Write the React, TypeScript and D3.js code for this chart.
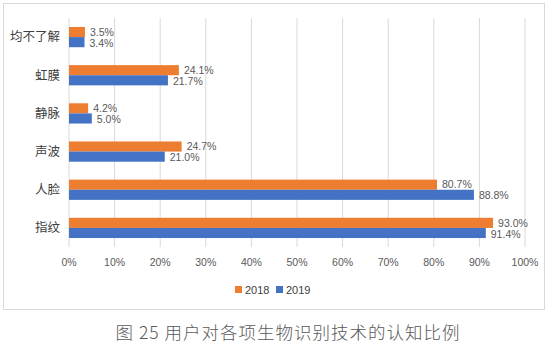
import { scaleLinear, scaleBand } from "d3"

const categories = ["均不了解", "虹膜", "静脉", "声波", "人脸", "指纹"]
const series2018 = [3.5, 24.1, 4.2, 24.7, 80.7, 93.0]
const series2019 = [3.4, 21.7, 5.0, 21.0, 88.8, 91.4]
const xTicks = [0, 10, 20, 30, 40, 50, 60, 70, 80, 90, 100]
const seriesNames = ["2018", "2019"]
const caption = "图 25 用户对各项生物识别技术的认知比例"

const ORANGE = "#ED7D31"
const BLUE = "#4472C4"
const FONT = "'Noto Sans CJK SC', 'Liberation Sans', sans-serif"

export default function App() {
  const width = 550
  const height = 353
  const plot = { left: 69, right: 525, top: 18, bottom: 247 }

  const x = scaleLinear().domain([0, 100]).range([plot.left, plot.right])
  const y = scaleBand<string>()
    .domain(categories)
    .range([plot.top, plot.bottom])
    .paddingInner(0.47)
    .paddingOuter(0.235)
  const inner = scaleBand<string>().domain(seriesNames).range([0, y.bandwidth()])

  const rows = categories.map((c, i) => ({ c, v: [series2018[i], series2019[i]] }))
  const colors = [ORANGE, BLUE]

  return (
    <div style={{ position: "absolute", left: 0, top: 0 }}>
      <svg width={width} height={height} style={{ display: "block", fontFamily: FONT }}>
        <rect x={0} y={0} width={width} height={height} fill="#fff" />
        {/* 外框 */}
        <rect x={3.5} y={3.5} width={541} height={306} fill="none" stroke="#d9d9d9" />

        {/* 网格线 */}
        {xTicks.map((t) => (
          <line key={t} x1={x(t)} x2={x(t)} y1={plot.top} y2={plot.bottom} stroke="#d9d9d9" strokeWidth={1} />
        ))}

        {/* 条形 */}
        {rows.map((r) =>
          r.v.map((v, k) => {
            const by = (y(r.c) ?? 0) + (inner(seriesNames[k]) ?? 0)
            return (
              <g key={r.c + k}>
                <rect x={x(0)} y={by} width={x(v) - x(0)} height={inner.bandwidth()} fill={colors[k]} />
                <text
                  x={x(v) + 5}
                  y={by + inner.bandwidth() / 2 + (k === 0 ? 0 : 1)}
                  dy="0.35em"
                  fontSize={10.5}
                  fill="#595959"
                  fontFamily="'Liberation Sans', sans-serif"
                >
                  {v.toFixed(1)}%
                </text>
              </g>
            )
          })
        )}

        {/* 分类标签 */}
        {categories.map((c) => (
          <text
            key={c}
            x={60}
            y={(y(c) ?? 0) + y.bandwidth() / 2}
            dy="0.35em"
            textAnchor="end"
            fontSize={12.5}
            fill="#404040"
          >
            {c}
          </text>
        ))}

        {/* X 轴 */}
        {xTicks.map((t) => (
          <text
            key={t}
            x={x(t)}
            y={262}
            dy="0.35em"
            textAnchor="middle"
            fontSize={10.5}
            fill="#595959"
            fontFamily="'Liberation Sans', sans-serif"
          >
            {t}%
          </text>
        ))}

        {/* 图例 */}
        {seriesNames.map((s, k) => {
          const lx = 235 + k * 41
          return (
            <g key={s}>
              <rect x={lx} y={286} width={7} height={7} fill={colors[k]} />
              <text x={lx + 10} y={290} dy="0.35em" fontSize={11} fill="#404040" fontFamily="'Liberation Sans', sans-serif">
                {s}
              </text>
            </g>
          )
        })}

        {/* 标题 */}
        <text x={288} y={333} dy="0.35em" textAnchor="middle" fontSize={17.5} fill="#595959" fontWeight={300} letterSpacing={1}>
          {caption}
        </text>
      </svg>
    </div>
  )
}
